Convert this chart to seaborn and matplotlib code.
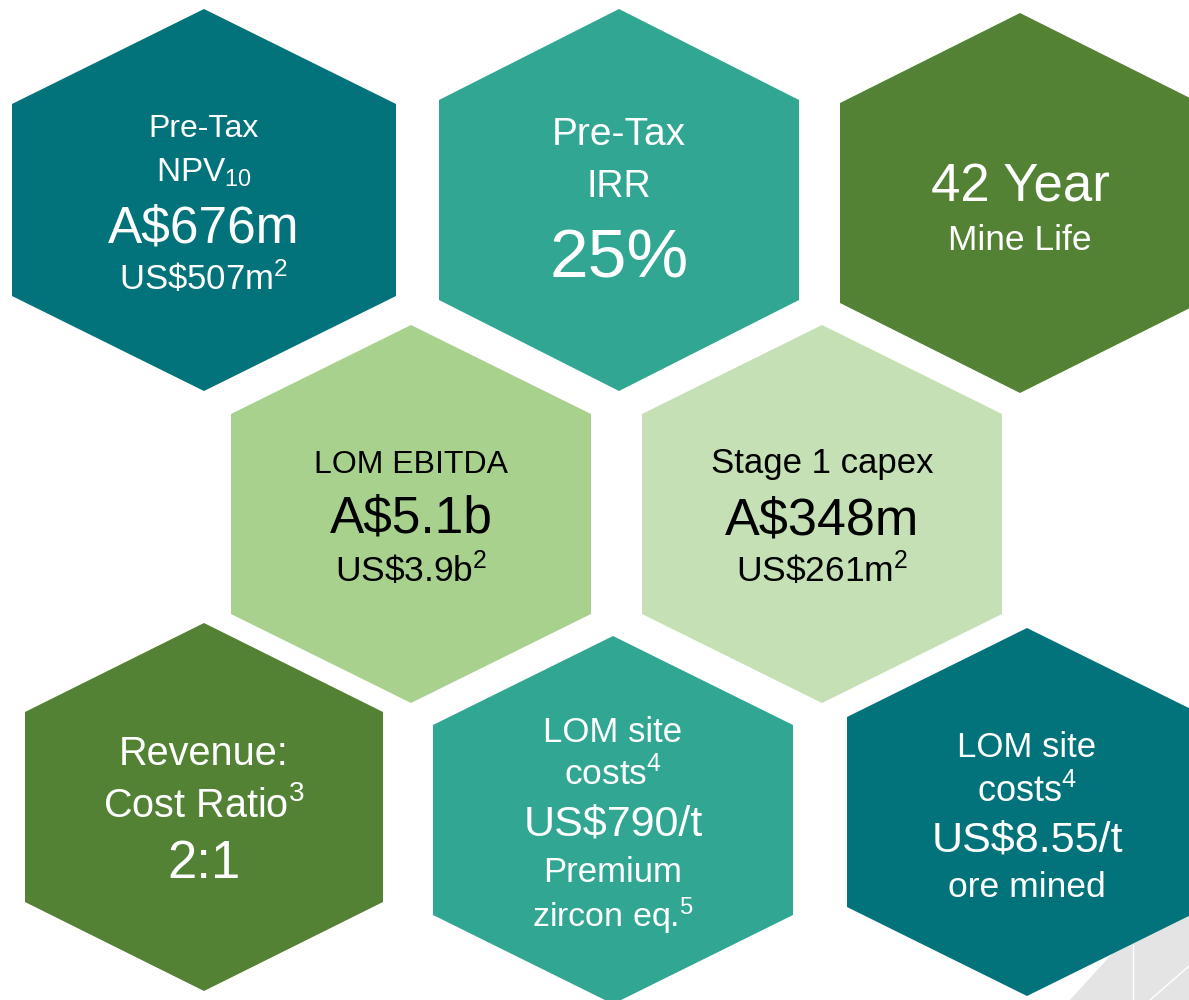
import matplotlib
matplotlib.use("Agg")
import matplotlib.pyplot as plt
from matplotlib.patches import Polygon
import seaborn as sns

# Hexagon tiles (reading order), text of each line
tile_lines = [
    ["Pre-Tax", r"NPV$_{10}$", "A$676m", r"US\$507m$^{2}$"],
    ["Pre-Tax", "IRR", "25%"],
    ["42 Year", "Mine Life"],
    ["LOM EBITDA", "A$5.1b", r"US\$3.9b$^{2}$"],
    ["Stage 1 capex", "A$348m", r"US\$261m$^{2}$"],
    ["Revenue:", r"Cost Ratio$^{3}$", "2:1"],
    ["LOM site", r"costs$^{4}$", "US$790/t", "Premium", r"zircon eq.$^{5}$"],
    ["LOM site", r"costs$^{4}$", "US$8.55/t", "ore mined"],
]

# layout (pixel space of the original slide)
centers = [(204, 200), (619, 200), (1020, 203), (411, 514),
           (822, 514), (204, 807), (613, 820), (1027, 812)]
half_w = [192, 180, 180, 180, 180, 179, 180, 180]
half_h = [191, 191, 190, 189, 189, 184, 184, 184]
shoulder = [96, 100, 100, 100, 100, 95, 95, 95]
baselines = [
    [137, 182, 242, 290],
    [145, 197, 278],
    [202, 250],
    [473, 533, 582],
    [473, 535, 582],
    [765, 817, 878],
    [742, 785, 835, 882, 927],
    [757, 802, 852, 897],
]
font_sizes = [
    [23, 24, 37, 25],
    [28, 27, 50],
    [38, 25.5],
    [23, 37, 25.5],
    [25, 37.5, 25.5],
    [28.5, 28.5, 38],
    [25, 25.5, 31, 25, 24.5],
    [25, 26, 31, 25.5],
]

dark_teal = "#02737A"
teal = "#31A793"
dark_green = "#548235"
light_green = "#A9D18E"
pale_green = "#C5E0B4"
fills = [dark_teal, teal, dark_green, light_green, pale_green, dark_green, teal, dark_teal]
text_colors = ["white", "white", "white", "black", "black", "white", "white", "white"]

sns.set_theme(style="white")
plt.rcParams["font.family"] = ["Liberation Sans", "DejaVu Sans"]
plt.rcParams["mathtext.default"] = "regular"

fig = plt.figure(figsize=(11.89, 10), dpi=100)
ax = fig.add_axes([0, 0, 1, 1])
ax.set_xlim(0, 1189)
ax.set_ylim(1000, 0)
ax.axis("off")

# faint grey decoration in bottom-right corner
ax.add_patch(Polygon([(1070, 1000), (1120, 945), (1189, 880), (1189, 1000)],
                     closed=True, facecolor="#E4E4E4", edgecolor="none", zorder=0))
ax.plot([1133, 1133], [945, 1000], color="white", lw=1, zorder=0.5)
ax.plot([1189, 1150], [966, 1000], color="white", lw=1, zorder=0.5)

for i, (cx, cy) in enumerate(centers):
    w, h, s = half_w[i], half_h[i], shoulder[i]
    verts = [(cx, cy - h), (cx + w, cy - s), (cx + w, cy + s),
             (cx, cy + h), (cx - w, cy + s), (cx - w, cy - s)]
    ax.add_patch(Polygon(verts, closed=True, facecolor=fills[i],
                         edgecolor="none", zorder=1))
    for line, y, fs in zip(tile_lines[i], baselines[i], font_sizes[i]):
        ax.text(cx, y, line, ha="center", va="baseline", fontsize=fs,
                color=text_colors[i], zorder=2)

fig.savefig("out.png", dpi=100, facecolor="white")
